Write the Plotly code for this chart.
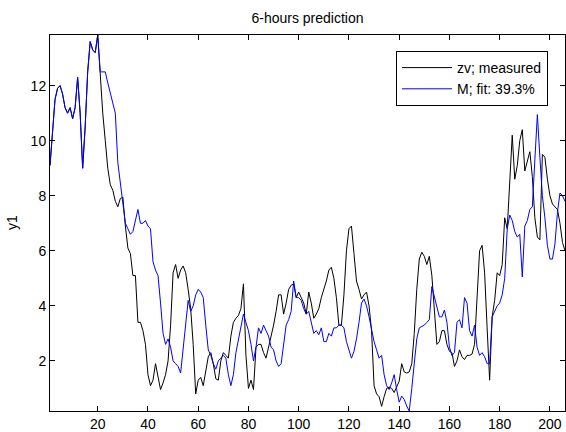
import plotly.graph_objects as go

x_vals = list(range(1, 207))

fit_M = [
    9.1, 10.3, 11.5, 11.9, 12.0, 11.7, 11.2, 11.0, 11.2, 10.8,
    11.2, 12.3, 11.0, 9.0, 10.5, 12.5, 13.6, 13.3, 13.2, 13.84,
    12.5, 12.5, 12.5, 12.1, 11.7, 11.4, 11.0, 9.2, 8.5, 7.7,
    7.0, 6.8, 6.6, 6.7, 7.1, 7.5, 7.0, 7.0, 7.1, 6.9,
    6.8, 5.6, 5.3, 5.1, 4.1, 3.0, 2.6, 2.8, 2.5, 2.0,
    1.9, 1.8, 1.56, 2.5, 3.5, 4.2, 3.8, 4.0, 4.4, 4.6,
    4.5, 4.3, 3.3, 2.4, 2.2, 1.9, 1.7, 2.0, 2.1, 2.2,
    2.1, 1.5, 1.1, 1.5, 2.3, 2.8, 3.3, 3.7, 3.4, 3.1,
    2.6, 2.0, 2.5, 3.2, 3.0, 3.3, 3.1, 2.9, 2.5, 2.4,
    2.0, 1.8, 1.9, 2.6, 3.3, 3.5, 3.8, 4.9, 4.3, 4.3,
    4.2, 3.9, 3.7, 3.8, 3.4, 3.0, 3.1, 2.95, 3.2, 2.7,
    2.7, 3.0, 2.9, 3.2, 3.2, 3.3, 3.3, 3.2, 2.7, 2.4,
    2.1, 2.35, 2.8, 3.4, 4.1, 4.25, 4.0, 3.6, 3.1, 2.7,
    2.4, 2.1, 2.2, 1.5, 1.1, 0.96, 1.2, 1.5, 0.96, 0.5,
    0.72, 0.6, 0.36, 0.18, 1.0, 1.9, 2.8, 3.2, 3.25, 3.3,
    3.4, 3.5, 4.7, 4.3, 4.0, 3.6, 3.6, 3.85, 3.4, 2.5,
    2.2, 2.3, 3.4, 3.5, 3.2, 4.3, 4.1, 3.1, 2.9, 3.3,
    2.5, 2.2, 2.3, 2.15, 1.9, 1.9, 3.6, 3.8, 4.0, 4.1,
    4.4, 5.0, 6.8, 7.3, 7.1, 6.7, 6.5, 6.6, 5.05, 6.9,
    7.1, 7.5, 7.6, 9.3, 10.95, 9.4, 8.0, 7.2, 6.2, 5.7,
    5.7, 6.25, 7.4, 8.1, 8.0, 7.8,
]

measured_tail = [
    12.3, 11.0, 10.0, 9.0, 8.4, 8.2, 7.8, 7.6, 7.9, 7.95,
    6.9, 6.1, 5.9, 5.1, 5.1, 3.4, 3.4, 3.1, 2.6, 1.5,
    1.1, 1.3, 1.9, 1.4, 0.96, 1.2, 1.5, 2.0, 3.3, 5.2,
    5.5, 5.0, 5.3, 5.45, 5.2, 4.6, 3.9, 2.6, 0.8, 1.3,
    1.4, 1.1, 1.6, 2.15, 2.3, 1.9, 1.35, 1.3, 2.0, 2.3,
    2.2, 2.1, 2.9, 3.4, 3.55, 3.65, 3.9, 4.8, 2.2, 1.0,
    1.3, 0.96, 2.5, 2.6, 2.6, 2.3, 2.1, 2.5, 2.8, 3.3,
    3.8, 4.4, 4.4, 3.7, 4.1, 4.6, 4.75, 4.8, 4.3, 4.5,
    4.3, 4.1, 3.7, 4.5, 4.1, 3.55, 3.7, 3.9, 4.3, 4.6,
    4.9, 5.3, 5.4, 5.0, 4.3, 3.3, 3.3, 4.4, 6.0, 6.8,
    6.9, 5.9, 4.9, 4.6, 4.25, 4.4, 4.5, 4.0, 3.1, 1.1,
    0.8, 0.7, 0.35, 0.7, 1.0, 1.05, 1.0, 0.85, 1.05, 1.26,
    1.9, 1.6, 1.56, 1.6, 1.9, 3.0, 4.6, 5.7, 5.95, 5.8,
    5.5, 5.8, 5.1, 3.85, 2.6, 2.7, 3.1, 3.1, 2.6, 2.35,
    2.3, 1.8, 2.0, 2.4, 2.15, 2.05, 2.2, 2.2, 2.25, 2.6,
    4.5, 6.0, 6.2, 5.2, 3.2, 1.3, 3.6, 4.2, 5.2, 5.1,
    5.5, 7.2, 6.8, 8.5, 10.2, 8.6, 9.1, 10.0, 10.4, 8.9,
    9.3, 9.6, 8.7, 7.2, 6.5, 6.4, 9.5, 9.4, 8.6, 8.0,
    7.7, 7.6, 7.5, 7.0, 6.3, 6.0,
]
# first 20 samples of the measured signal coincide with the fit (hidden beneath it)
measured_zv = fit_M[:20] + measured_tail

x_ticks = [20, 40, 60, 80, 100, 120, 140, 160, 180, 200]
y_ticks = [2, 4, 6, 8, 10, 12]

fig = go.Figure()
fig.add_trace(go.Scatter(x=x_vals, y=measured_zv, mode="lines",
                         name="zv; measured", line=dict(color="#000000", width=1)))
fig.add_trace(go.Scatter(x=x_vals, y=fit_M, mode="lines",
                         name="M; fit: 39.3%", line=dict(color="#0000ff", width=1)))

font = dict(family="Liberation Sans, Arial, sans-serif", size=14, color="#000000")
axis_common = dict(showline=True, linecolor="#000000", linewidth=1, mirror="ticks",
                   ticks="inside", ticklen=5, tickcolor="#000000", showgrid=False,
                   zeroline=False, tickfont=font, automargin=False)

fig.update_layout(
    width=566, height=432,
    margin=dict(l=50, r=1, t=35, b=21),
    paper_bgcolor="#ffffff", plot_bgcolor="#ffffff",
    font=font,
    title=dict(text="6-hours prediction", x=0.5, xref="paper", xanchor="center",
               y=1 - 18 / 432, yref="container", yanchor="middle", font=font),
    xaxis=dict(range=[1, 206], tickvals=x_ticks, ticktext=[str(v) for v in x_ticks], **axis_common),
    yaxis=dict(range=[0.18, 13.84], tickvals=y_ticks, ticktext=[str(v) for v in y_ticks], **axis_common),
    legend=dict(x=(548 - 50) / 515, y=1 - 16 / 376, xanchor="right", yanchor="top",
                bgcolor="#ffffff", bordercolor="#000000", borderwidth=1,
                font=font, tracegroupgap=0, itemwidth=50),
    showlegend=True,
)

fig.add_annotation(text="y1", xref="paper", yref="paper", x=-38 / 515, y=0.5,
                   textangle=-90, showarrow=False, font=font,
                   xanchor="center", yanchor="middle")

fig.write_html(
    "out.html",
    config={"displayModeBar": False},
    post_script="document.body.style.margin='0';document.body.style.overflow='hidden';",
)
